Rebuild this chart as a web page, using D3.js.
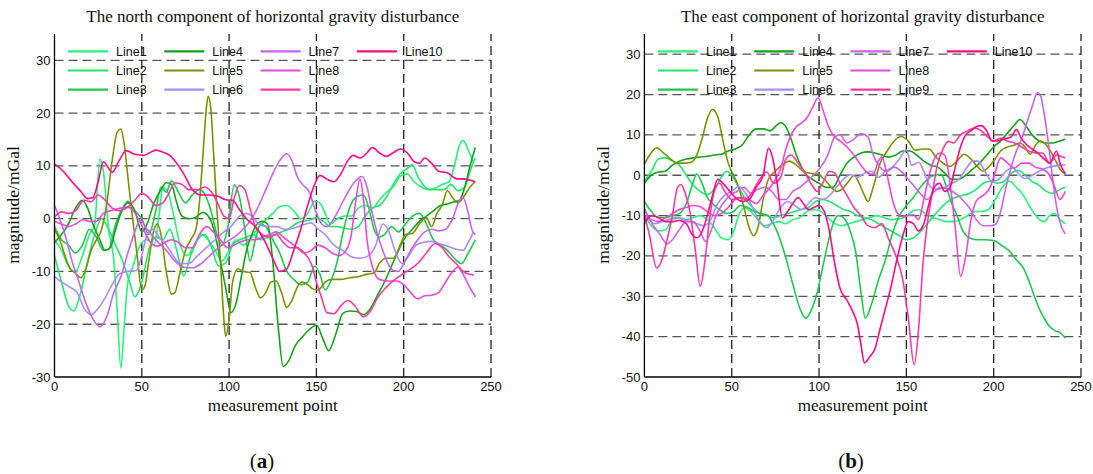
<!DOCTYPE html>
<html>
<head>
<meta charset="utf-8">
<script src="https://cdn.jsdelivr.net/npm/d3@7"></script>
<style>
body { margin: 0; background: #fff; }
.title, .axlabel, .tag { font-family: "Liberation Serif", "DejaVu Serif", serif; fill: #111; }
.tick, .leg { font-family: "Liberation Sans", Arial, sans-serif; fill: #111; }
</style>
</head>
<body>
<svg id="fig" width="1093" height="474"></svg>
<script>
// legend entries
var lineNames = ["Line1", "Line2", "Line3", "Line4", "Line5", "Line6", "Line7", "Line8", "Line9", "Line10"];
var lineColors = ["#2af07c", "#22e46e", "#22c550", "#14a01a", "#7a9200", "#a98cff", "#c666e6", "#e64ad8", "#ff3aa6", "#ff0a8a"];

var xTicks = [0, 50, 100, 150, 200, 250];
var northTicks = [-30, -20, -10, 0, 10, 20, 30];
var eastTicks = [-50, -40, -30, -20, -10, 0, 10, 20, 30];

var north1 = [[0,-4],[4,-6],[8,-9],[12,-10],[16,-7],[20,-3],[23,-1],[26,11.3],[28,9],[31,-2],[34,-8],[36,-18],[38,-28.3],[40,-20],[42,-12],[45,-9],[49,-5],[53,-4],[57,-5],[60,1],[62,6],[65,5],[68,1],[72,-5],[76,-7],[80,-5],[84,-3],[88,-4],[92,-6],[96,-8],[100,-6],[104,-4],[108,-5],[112,-4],[116,-2],[120,-0.5],[125,1],[129,2.3],[133,2.5],[137,1.5],[141,0],[145,1],[149,3.3],[152,3],[155,1],[158,-1],[162,0],[166,0.5],[170,0.5],[174,2],[178,2.5],[182,2],[186,3.5],[190,5],[194,6],[198,8],[202,8.5],[206,7],[210,6],[214,5.5],[218,5.8],[222,6.5],[226,7],[229,10],[232,14],[234,14.8],[237,13],[240,10.5]];
var north2 = [[0,-7],[4,-12],[8,-16.5],[11,-17.5],[15,-14],[19,-8],[23,-3],[27,0],[31,-2],[35,-5],[39,-8],[43,-12],[46,-14.8],[50,-12],[54,-6],[58,-3.5],[62,-4],[66,-2],[70,-6],[74,-10.8],[78,-7],[82,-4],[86,-3],[90,-5.5],[94,-9],[98,-8.4],[102,-5],[106,-4],[110,-3.5],[114,-3],[118,-4],[122,-3.5],[126,-3],[130,-2.5],[134,-2],[138,-1],[142,-0.5],[146,-0.3],[150,0.2],[154,-0.5],[158,-1.5],[162,-1.5],[166,-1.8],[170,-2],[174,-1.5],[178,0.5],[182,2],[186,2.5],[190,4],[194,6.5],[198,8.5],[202,9.5],[205,10.2],[208,8],[211,6.5],[215,5.5],[219,5.5],[223,5.5],[227,6.5],[231,5.3],[235,6],[238,9],[241,11.5]];
var north3 = [[0,-1.5],[4,-4],[8,-5],[12,-6.5],[16,-5],[20,-2],[24,-3.5],[28,-6],[31,-5.8],[35,-1],[39,2],[42,3.3],[46,1.5],[50,0],[54,-3],[58,1.5],[61,6],[64,5],[67,7.2],[71,5],[75,3],[79,4.5],[83,5.5],[87,4],[90,1],[93,-3],[96,-5],[99,-2],[103,6.4],[106,4],[109,-2],[112,-8],[115,-4],[118,-1],[121,-1.5],[125,-4],[129,-6.5],[133,-10],[137,-11.5],[141,-12.5],[145,-12],[149,-9],[152,-10.5],[155,-13.5],[158,-12],[162,-8],[165,-3],[168,1],[171,3.5],[174,4.3],[177,4.5],[180,2],[183,-2],[186,-3.5],[189,-3],[193,-1.5],[197,-2.5],[201,-1],[205,0.5],[209,1],[213,-1],[217,-4],[221,-5],[225,-6],[229,-7.5],[233,-8.5],[237,-6.5],[241,-4]];
var north4 = [[0,-4.5],[4,-3],[8,-1],[12,2],[16,3.5],[19,2],[22,-1],[26,-4],[29,-6],[32,-5.5],[35,-2],[38,1],[42,3],[46,1.5],[50,-2.5],[53,-1],[57,3],[61,5.5],[64,6.8],[67,6.5],[70,3],[73,0.5],[77,0],[81,0.3],[85,1.2],[89,0],[92,-3],[95,-8],[98,-13],[101,-17.8],[104,-16],[107,-11],[110,-6],[113,-3],[116,-1],[119,-0.5],[122,-1],[125,-8],[128,-20],[131,-28],[134,-27],[138,-24],[142,-22.4],[146,-21],[150,-20.2],[154,-23],[157,-25],[161,-22],[165,-18],[169,-17.5],[173,-17.6],[177,-18.2],[181,-17],[185,-14.5],[189,-12],[193,-9],[197,-6],[201,-3.5],[205,-2],[209,-0.5],[213,0.5],[217,1.5],[221,2.5],[225,2.8],[229,3.2],[232,3.5],[235,6],[238,10],[241,13.5]];
var north5 = [[0,-2],[3,-4],[6,-7],[9,-9.5],[12,-10.3],[15,-11.2],[18,-9.5],[21,-6],[24,-4],[27,-2],[30,3],[33,11],[36,16.5],[38,17],[40,14],[42,8],[44,2],[47,-6],[50,-13.5],[52,-12.5],[54,-8],[57,-2],[59,-1],[61,-3],[64,-10],[67,-14.3],[69,-14],[72,-10],[75,-6],[78,-4],[81,-2],[83,3],[85,12],[87,21],[88,23.2],[89.5,21],[91,13],[93,2],[95,-8],[97,-19],[98,-22.3],[100,-19],[102,-12],[105,-9.5],[108,-10],[112,-10.2],[115,-13],[118,-15],[121,-14],[124,-12],[127,-11.8],[130,-14],[133,-16.8],[136,-15.5],[139,-13],[142,-12],[145,-12.5],[148,-13.3],[151,-13.5],[155,-12],[159,-11.5],[164,-11.5],[169,-11.2],[174,-11],[179,-10.5],[183,-10.3],[186,-8.5],[190,-7.5],[194,-7.5],[198,-5],[201,-3],[205,-2.8],[209,-1],[213,0.2],[216,-1.5],[219,1],[222,2.5],[225,5.3],[228,4],[231,3],[235,4.5],[238,6],[241,7]];
var north6 = [[0,-11],[4,-12],[9,-13],[13,-14],[17,-17],[21,-18.2],[25,-17],[29,-15],[33,-12.5],[37,-10.5],[42,-10],[47,-9.8],[50,-7],[53,-3],[56,-2],[60,-3.5],[64,-5],[68,-7],[72,-8.5],[77,-8.5],[82,-7],[87,-5.5],[92,-4],[97,-2.5],[101,-1.5],[106,0.5],[110,1],[113,0.5],[117,-1],[122,-1.5],[127,-1.5],[132,-2],[137,-1.8],[142,-1.2],[147,-0.8],[151,-2],[155,-3],[160,-5],[165,-6],[170,-7.2],[175,-7.5],[180,-7],[184,-5],[188,-1],[191,-2],[195,-6],[199,-8.5],[203,-7],[207,-5],[211,-4.5],[216,-4.3],[221,-4.8],[226,-5.3],[230,-5.8],[234,-6],[237,-4.5],[240,-2.5]];
var north7 = [[0,2.5],[3,0],[6,-3],[10,-8],[14,-12],[18,-16],[22,-19],[26,-20.5],[30,-18.5],[34,-14],[38,-11],[42,-6.5],[46,-2.5],[49,-0.3],[53,-2],[58,-4],[64,-6],[69,-8],[74,-9.2],[79,-9.3],[84,-8.5],[89,-7],[94,-5.5],[98,-4.5],[103,-3.5],[108,-2],[113,0],[117,2.5],[121,5.5],[125,8.5],[129,11],[133,12.3],[136,11],[139,8],[142,6.5],[146,5],[149,2],[153,-1],[156,-1.5],[160,0],[164,2.5],[168,5],[172,7],[176,8],[179,6],[182,1],[185,-3],[188,-6],[191,-8.5],[194,-9.8],[197,-10],[200,-8.5],[204,-6],[208,-4],[212,-2.5],[216,-2],[220,-2.3],[224,-2],[228,0],[232,3.5],[234,4],[237,1],[239,-2],[241,-3]];
var north8 = [[0,-0.5],[4,-1],[8,-1.5],[12,-1],[16,-0.2],[20,-0.5],[24,-0.5],[28,1],[33,1.6],[38,2],[42,2.2],[45,1.5],[48,0],[51,-2],[55,-4.5],[59,-5.2],[63,-4.5],[67,-4],[71,-4.5],[75,-5.5],[79,-5.5],[83,-3],[87,-1.5],[91,-2.5],[95,-4],[99,-5.5],[103,-5],[107,-4.3],[111,-4],[115,-4],[119,-3.5],[123,-3],[127,-2.5],[131,-3.5],[135,-4.5],[139,-5.5],[143,-6.5],[147,-6],[151,-5],[155,-5.5],[159,-6.5],[163,-7],[167,-6],[170,-3],[172,2],[175,7.5],[177,3.5],[179,-4],[182,-9],[186,-11.5],[191,-11.8],[196,-11.8],[200,-12.5],[204,-14],[208,-15.2],[212,-14.6],[216,-14.5],[220,-14],[224,-12],[228,-10],[231,-9.2],[234,-10.5],[237,-12.5],[241,-14.8]];
var north9 = [[0,0.3],[4,1.3],[8,1],[12,1.5],[17,3.5],[21,3.2],[25,4.5],[29,3.5],[33,2],[37,1.5],[41,2],[46,3.5],[50,4.8],[54,4],[58,2.5],[62,3],[65,4.5],[69,6.8],[73,6.5],[77,5.5],[82,5.5],[86,6],[90,5],[94,2.5],[97,0.5],[100,0],[103,4],[106,6.3],[109,5.5],[112,2],[115,-1.5],[119,-3],[123,-3.5],[127,-3],[131,-4.5],[135,-5.5],[139,-5.5],[143,-6.5],[147,-8.5],[150,-12],[153,-15],[156,-17.8],[160,-18],[164,-16.5],[168,-15.5],[172,-16.5],[177,-18.6],[181,-17.5],[185,-15],[190,-13],[195,-11.5],[199,-10.6],[204,-9.5],[208,-8.5],[213,-6.5],[218,-4.7],[222,-5.5],[226,-7.2],[230,-8.5],[234,-10],[237,-10.5],[240,-10.7]];
var north10 = [[0,10.4],[5,9],[10,7],[15,5.2],[19,3.8],[22,4],[25,7],[28,10.8],[33,8.8],[37,11],[41,12.9],[46,12.2],[51,12],[54,12.4],[58,13],[62,12.6],[66,12],[70,10.5],[74,8.5],[79,5.5],[84,4.5],[89,4.5],[94,4.2],[98,3.6],[102,3.5],[106,1.7],[110,0],[115,-1.5],[120,-4],[125,-7.5],[129,-10],[133,-9.5],[137,-6],[141,-2],[145,2.5],[149,6.5],[152,8.2],[156,7.5],[160,7],[164,8.5],[168,11],[171,12],[175,11.5],[179,12.5],[182,13.5],[186,12.5],[190,11.8],[194,12.5],[198,13.2],[202,12.5],[206,10.8],[209,10.5],[212,11.5],[216,10.5],[220,9],[225,8.7],[230,7.6],[235,7.5],[238,7.3],[241,7]];

// east component
var east1 = [[0,-10],[4,-12.5],[8,-13.8],[12,-13.5],[16,-11],[20,-10.5],[24,-11],[28,-10.5],[32,-10],[36,-11],[40,-13],[44,-15.5],[48,-16],[51,-14],[54,-10],[57,-8],[61,-9],[65,-11],[69,-12.5],[73,-12],[77,-11.5],[81,-12],[85,-11],[89,-10.5],[93,-9],[97,-8.5],[101,-9],[105,-10.5],[109,-12],[113,-12.5],[117,-12],[121,-11.5],[125,-11],[129,-10.5],[133,-10],[137,-10.5],[141,-11],[145,-10.8],[149,-10.5],[153,-9],[157,-8.5],[161,-9.5],[165,-10.5],[169,-11],[173,-11.5],[177,-11.5],[181,-11],[185,-10],[189,-9],[193,-9],[197,-8.5],[201,-6],[205,-3],[209,-1.5],[213,-3],[217,-5],[221,-8],[225,-10.5],[229,-11.5],[232,-10],[235,-9.5],[238,-11],[241,-12]];
var east2 = [[0,-1.5],[4,1],[8,4],[12,4.3],[16,3.5],[20,2.5],[24,0],[28,-2.5],[32,-4],[36,-4.8],[40,-3.5],[44,-0.5],[47,1],[50,0],[54,-3],[58,-6],[62,-8],[66,-9.5],[70,-10],[74,-10.5],[78,-10],[82,-9.5],[86,-9],[90,-8.5],[94,-8],[98,-6.5],[102,-6],[106,-6.5],[110,-7.5],[114,-8.5],[118,-9],[122,-10],[126,-10.5],[130,-11],[134,-12],[138,-13],[142,-14],[146,-15],[150,-16],[154,-15.5],[158,-14],[162,-12],[166,-10],[170,-8],[174,-6.5],[178,-5.5],[182,-5],[186,-4.5],[190,-3.5],[194,-2],[198,-1.5],[202,-2],[206,-1.5],[210,0.5],[214,1.2],[218,0],[222,-1.5],[226,-2.5],[230,-4],[234,-4.5],[238,-3.5],[241,-3]];
var east3 = [[0,-6.5],[4,-9],[8,-10.5],[12,-10.5],[16,-10],[20,-9.5],[24,-7],[27,-3],[30,0.3],[33,-2],[36,-5.5],[39,-7],[43,-8.5],[47,-9.5],[51,-9],[55,-7.5],[59,-8],[63,-9],[67,-9.5],[70,-9.8],[75,-13],[80,-19],[85,-27],[89,-33],[92.5,-35.4],[96,-33],[99,-29],[102,-23],[105,-17],[108,-12],[111,-10],[114,-10.5],[118,-14],[121,-19],[124,-29],[126.5,-35.4],[130,-32],[134,-26],[138,-21],[142,-14.5],[146,-10],[150,-7.5],[154,-5.5],[158,-3],[162,-1],[166,0],[170,0.2],[173,-3],[176,-7],[179,-10],[182,-13.5],[186,-15.5],[190,-16],[195,-16],[200,-16.2],[205,-17.5],[209,-18.8],[213,-21],[217,-23],[220,-26],[223,-29.6],[226,-33],[229,-35.5],[232,-37.5],[235,-38.5],[238,-39],[241,-40.3]];
var east4 = [[0,-2],[4,0],[8,0.8],[12,1],[16,2.5],[20,3.5],[24,4],[28,4.3],[32,4.5],[36,4.7],[40,5],[44,5.2],[48,6],[52,6.5],[56,7.5],[60,10],[64,11.5],[68,11.5],[72,11],[76,12.5],[78,13],[81,12],[84,9],[87,5],[90,2],[93,0],[96,-1],[100,-2],[104,-3],[108,-3],[112,0],[116,3],[120,4.5],[124,5.5],[128,5.8],[132,5.5],[136,5],[140,4.5],[144,5],[148,6],[152,6],[156,5],[160,3.5],[164,2.5],[168,2],[172,0.5],[176,-1],[180,-1],[184,0],[188,1.5],[192,3],[196,5],[200,7],[204,8.5],[208,10.5],[212,12.5],[215,13.8],[218,12.5],[222,10],[226,8.5],[230,8],[234,8],[238,8.5],[241,9]];
var east5 = [[0,2.7],[3,5],[7,6.8],[11,5.5],[15,4],[19,3],[23,3],[27,3.3],[30,5],[33,9],[36,14],[39,16.3],[42,14.5],[45,8.5],[48,3],[51,0],[54,-3],[57,-8],[60,-13],[62.5,-15],[65,-13],[68,-6],[71,-1],[75,1],[79,2.6],[83,3.5],[87,2.5],[91,1],[95,0.5],[99,0.3],[103,-1],[107,-3],[110,-4],[113,-3.5],[117,-1.5],[120,0],[123,-2],[126,-5],[128,-6.5],[131,-3],[135,3],[139,6],[143,8.5],[147,9.6],[151,8.5],[155,6.2],[159,6.5],[163,6.5],[167,4.5],[171,3],[175,2.2],[179,3.5],[183,5.2],[187,4],[191,2],[194,1],[197,2],[200,3.5],[204,6],[208,7],[212,7.5],[215,8],[218,7],[221,5.2],[224,7.5],[227,8.5],[231,7],[235,4],[238,1.5],[241,0.3]];
var east6 = [[0,-8],[3,-11],[6,-12],[10,-11.5],[14,-11],[18,-10.5],[22,-11],[26,-11.5],[30,-12],[34,-12.5],[38,-11],[42,-7],[46,-5],[50,-4],[54,-2.8],[58,-4.5],[62,-8],[66,-11.5],[70,-13],[74,-11],[78,-8],[82,-6.5],[86,-7.5],[90,-8.5],[94,-7],[98,-5.5],[102,-6],[106,-5],[110,-3],[114,-1],[118,0.2],[122,-0.5],[126,0.5],[130,1],[134,-0.5],[138,1],[142,2],[146,4],[150,6.3],[153,2.5],[157,3.2],[160,1],[164,-3],[168,-3.5],[172,-3],[176,-2],[180,-1],[184,1.5],[188,3.5],[191,3.5],[195,1],[199,-1.5],[203,-1],[207,1],[211,1.8],[215,0],[218,-0.8],[222,0],[226,1],[230,1.8],[234,2.2],[238,2.5],[241,2.6]];
var east7 = [[0,-8.5],[3,-11],[6,-13],[9,-14.7],[13,-17],[16,-16],[20,-13.5],[24,-11.5],[28,-11.5],[32,-14],[35,-16.4],[38,-14],[41,-10],[45,-7],[49,-5],[53,-4],[57,-3],[61,-4.5],[65,-3.5],[69,-3],[73,-4],[77,-6],[81,-6],[85,-4],[89,-3],[93,-1.5],[97,0],[101,2],[105,5],[109,9.5],[112,10],[116,8],[120,9],[124,10.3],[128,9.5],[131,5],[135,2],[139,1],[143,2],[147,1],[151,-1],[155,-3],[159,-5],[162,-6],[166,-4],[170,-3],[174,-3.5],[178,-4.5],[182,-6],[186,-8],[190,-11],[194,-12.5],[198,-12.5],[201,-12.2],[204,-9],[207,-3],[210,2],[213,6],[216,9],[219,13],[222,17],[225,20.4],[227,19.5],[229,15],[231,9],[233,2],[235,-5],[237,-10],[239,-13],[241,-14.5]];
var east8 = [[0,-10],[4,-11],[8,-11.5],[12,-10.5],[16,-9.5],[20,-8.5],[24,-8],[28,-7.5],[32,-7.8],[36,-9],[40,-10],[44,-9.5],[48,-8],[52,-6],[56,-5.5],[60,-6],[64,-7],[68,-5],[72,-3],[75,-1],[78,1.6],[81,6.5],[84,10],[87,12],[90,13],[93,14.2],[96,16.5],[99.5,19.2],[102,16.5],[105,12.5],[108,10],[112,8.5],[116,7],[120,5],[124,2.5],[128,0.5],[131,0.2],[134,3.5],[136,4.5],[139,0],[142,-6],[145,-9.5],[148,-10.3],[151,-10],[154,-9.8],[157,-11],[160,-6],[163,0],[166,4],[169,5.5],[172,5],[175,-2],[178,-13],[181,-25],[184,-20],[187,-11],[190,-6.4],[194,-5],[198,-3],[201,1],[204,4.3],[208,3],[212,1.8],[216,3],[220,3],[224,2],[228,1.5],[232,0],[235,-3],[238,-6],[241,-4]];
var east9 = [[0,-9.8],[3,-15],[7,-23],[10,-21],[13,-16],[16,-10],[19,-3],[21,-2.3],[23,-4],[26,-9],[29,-18],[32,-27.5],[35,-20],[37,-12],[40,-4],[43,-2],[46,-4],[50,-6],[54,-5.5],[58,-6],[62,-4],[66,-1],[70,0.8],[74,-2],[78,-0.5],[81,4],[84,5],[88,3],[92,0.5],[96,-2.5],[99,-4],[102,-2],[106,1],[109,0.5],[112,-2],[116,-5],[120,-8],[124,-10],[128,-12.5],[132,-13],[136,-12],[140,-16],[144,-20],[148,-26],[151,-35],[154.5,-47],[157,-38],[159.5,-22],[162,-12],[165,-4],[168,3],[171,6.5],[174,8.4],[177,8],[181,10],[185,11],[189,11.7],[193,11],[197,9.3],[200,8.5],[204,9.2],[208,8.4],[212,8],[216,7],[220,6],[224,5.5],[228,5.5],[232,3],[236,5],[239,4.6],[241,4.3]];
var east10 = [[0,-12],[4,-10],[8,-10.5],[12,-11.5],[16,-11.5],[20,-11.2],[24,-12],[27,-14.5],[30,-15.5],[33,-14],[36,-10],[39,-5],[42,-1],[45,-2],[48,-3.5],[52,-5.5],[56,-6.5],[60,-6],[64,-3],[68,0],[71,6.7],[73,5],[76,-2],[79,-10.6],[82,-9],[85,-7],[88,-5.5],[91,-7],[94,-8.5],[97,-8],[100,-7.5],[103,-9],[106,-14],[109,-22],[112,-28],[116,-31],[119,-33.5],[122,-37],[124,-42],[126,-46.5],[129,-45],[132,-43],[135,-38],[138,-33],[141,-28],[144,-22],[148,-15],[151,-11.5],[154,-12],[157,-13.8],[160,-12],[163,-7],[166,-3],[169,-2],[172,-4],[175,-3],[178,2],[181,7],[184,10],[187,11],[190,12],[193,12.3],[196,11],[199,8.5],[202,8.5],[206,9],[210,9.5],[213,11.3],[216,9],[219,7.5],[222,6.5],[225,5.6],[229,4],[232,3],[236,6],[238,3],[241,0.3]];

var northSeries = [north1, north2, north3, north4, north5, north6, north7, north8, north9, north10];
var eastSeries = [east1, east2, east3, east4, east5, east6, east7, east8, east9, east10];

var svg = d3.select("#fig");

function drawPanel(p) {
    var x = d3.scaleLinear().domain([0, 250]).range([p.left, p.right]);
    var y = d3.scaleLinear().domain(p.yDomain).range([377, 34]);
    var g = svg.append("g");

    // dashed grid
    g.selectAll(".hg").data(p.yTicks.slice(1)).enter().append("line")
        .attr("x1", x(0)).attr("x2", x(250))
        .attr("y1", function(d) { return y(d); }).attr("y2", function(d) { return y(d); })
        .attr("stroke", "#555").attr("stroke-width", 1.3).attr("stroke-dasharray", "9,5");
    g.selectAll(".vg").data(xTicks.slice(1)).enter().append("line")
        .attr("y1", y.range()[0]).attr("y2", y.range()[1])
        .attr("x1", function(d) { return x(d); }).attr("x2", function(d) { return x(d); })
        .attr("stroke", "#222").attr("stroke-width", 1.3).attr("stroke-dasharray", "9,5");

    // data lines
    var line = d3.line()
        .x(function(d) { return x(d[0]); })
        .y(function(d) { return y(d[1]); })
        .curve(d3.curveMonotoneX);
    g.selectAll(".series").data(p.series).enter().append("path")
        .attr("d", line)
        .attr("fill", "none")
        .attr("stroke", function(d, i) { return lineColors[i]; })
        .attr("stroke-width", 1.6);

    // axes (left + bottom only)
    g.append("line").attr("x1", x(0)).attr("x2", x(0)).attr("y1", 34).attr("y2", 377)
        .attr("stroke", "#000").attr("stroke-width", 1.3);
    g.append("line").attr("x1", x(0)).attr("x2", x(250)).attr("y1", 377).attr("y2", 377)
        .attr("stroke", "#000").attr("stroke-width", 1.3);

    g.selectAll(".yt").data(p.yTicks).enter().append("text")
        .attr("class", "tick")
        .attr("x", x(0) - 4).attr("y", function(d) { return y(d); })
        .attr("dy", "0.35em").attr("text-anchor", "end")
        .style("font-size", "13px")
        .text(function(d) { return d; });
    g.selectAll(".xt").data(xTicks).enter().append("text")
        .attr("class", "tick")
        .attr("x", function(d) { return x(d); }).attr("y", 391)
        .attr("text-anchor", "middle")
        .style("font-size", "13px")
        .text(function(d) { return d; });

    // legend, 3 rows per column
    var leg = g.selectAll(".legitem").data(lineNames).enter().append("g")
        .attr("transform", function(d, i) {
            return "translate(" + (x(0) + 13.5 + Math.floor(i / 3) * 96.3) + "," + (51.3 + (i % 3) * 19.2) + ")";
        });
    leg.append("line").attr("x1", 0).attr("x2", 40).attr("y1", 0).attr("y2", 0)
        .attr("stroke", function(d, i) { return lineColors[i]; }).attr("stroke-width", 2.2);
    leg.append("text").attr("class", "leg")
        .attr("x", 48).attr("dy", "0.36em")
        .style("font-size", "12.5px")
        .text(function(d) { return d; });

    // titles and labels
    var mid = (p.left + p.right) / 2;
    g.append("text").attr("class", "title")
        .attr("x", mid).attr("y", 22).attr("text-anchor", "middle")
        .style("font-size", "17px").text(p.title);
    g.append("text").attr("class", "axlabel")
        .attr("x", mid).attr("y", 411).attr("text-anchor", "middle")
        .style("font-size", "17px").text("measurement point");
    g.append("text").attr("class", "axlabel")
        .attr("transform", "translate(" + p.ylabX + ",205) rotate(-90)")
        .attr("text-anchor", "middle")
        .style("font-size", "17.5px").text("magnitude/mGal");
    var tag = g.append("text").attr("class", "tag")
        .attr("x", p.tagX).attr("y", 468).attr("text-anchor", "middle")
        .style("font-size", "21px");
    tag.append("tspan").text("(");
    tag.append("tspan").style("font-weight", "bold").text(p.tag);
    tag.append("tspan").text(")");
}

drawPanel({
    left: 54.5, right: 491, yDomain: [-30, 35], yTicks: northTicks,
    series: northSeries, title: "The north component of horizontal gravity disturbance",
    ylabX: 19, tagX: 262, tag: "a"
});
drawPanel({
    left: 644.4, right: 1081, yDomain: [-50, 35], yTicks: eastTicks,
    series: eastSeries, title: "The east component of horizontal gravity disturbance",
    ylabX: 609, tagX: 851, tag: "b"
});
</script>
</body>
</html>
